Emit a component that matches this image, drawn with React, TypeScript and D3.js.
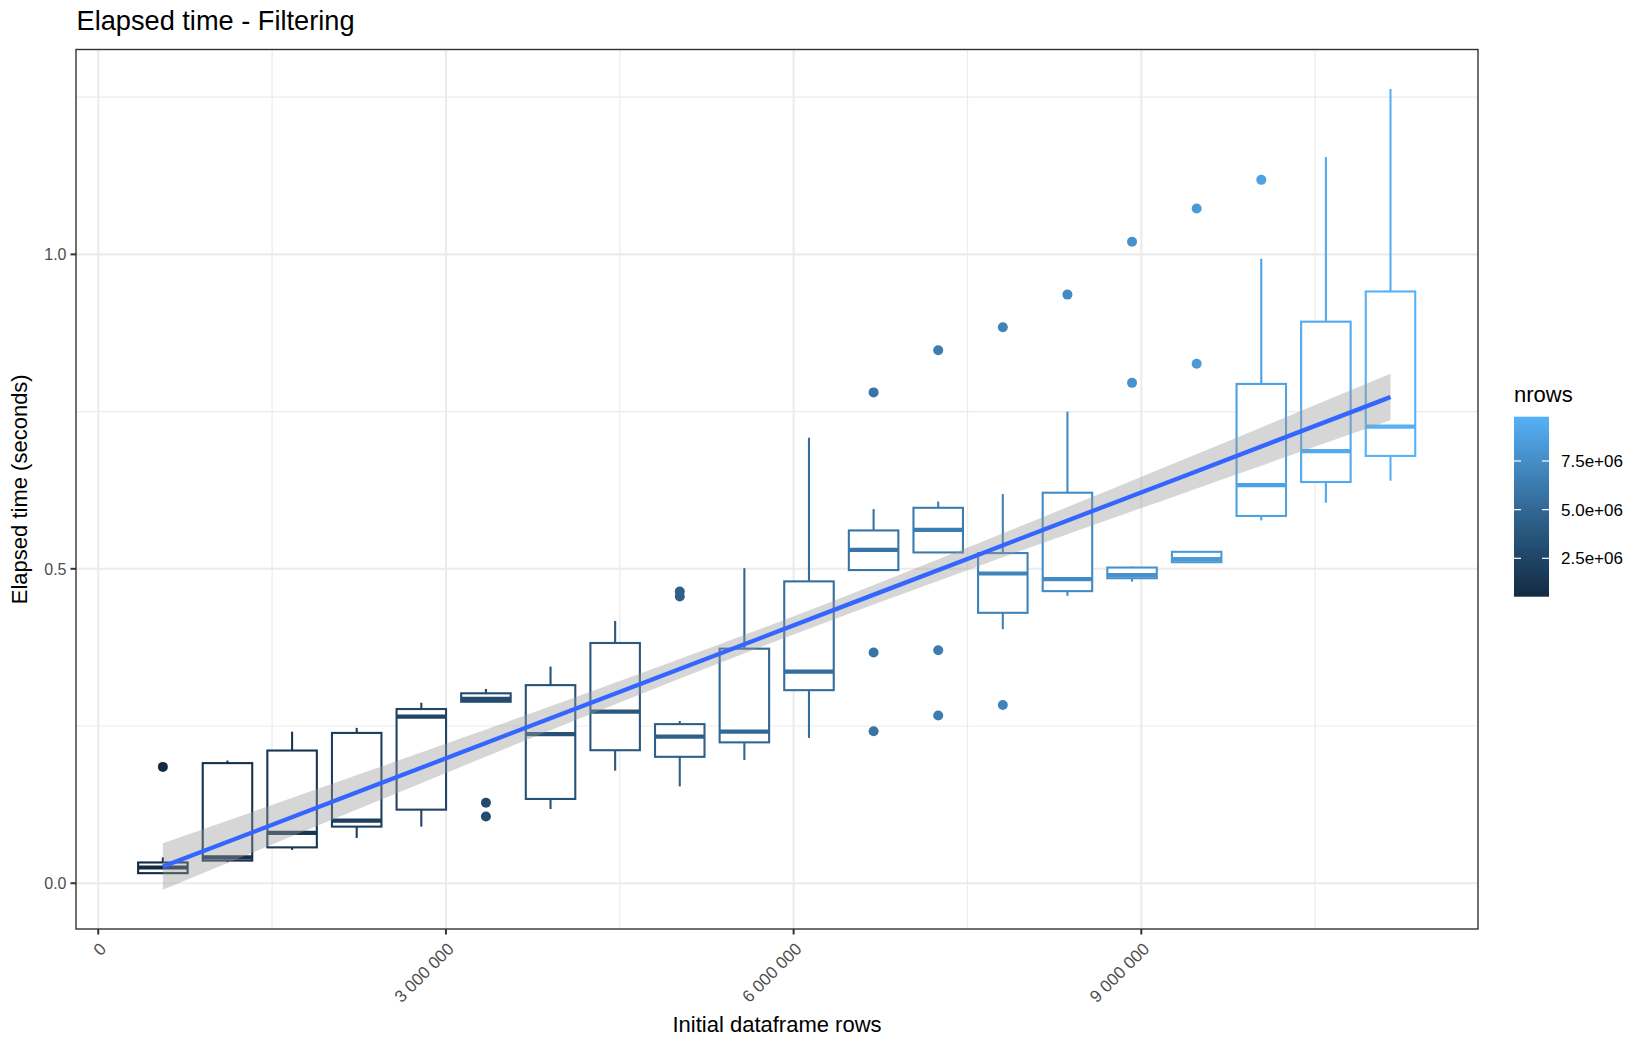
import * as d3 from 'd3';
import React from 'react';

// initial dataframe rows for each benchmark group
const initialRows = [
  557500, 1115000, 1672500, 2230000, 2787500, 3345000, 3902500, 4460000, 5017500, 5575000,
  6132500, 6690000, 7247500, 7805000, 8362500, 8920000, 9477500, 10035000, 10592500, 11150000,
];

// nrows value used for the colour of each group
const nrows = [
  527000, 1014000, 1500000, 1987000, 2474000, 2960000, 3447000, 3934000, 4421000, 4907000,
  5394000, 5881000, 6367000, 6854000, 7341000, 7828000, 8314000, 8801000, 9288000, 9774000,
];

// boxplot statistics (seconds)
const lowerWhisker = [
  0.015, 0.0334, 0.053, 0.072, 0.09, 0.288, 0.118, 0.179, 0.154, 0.196,
  0.231, 0.498, 0.525, 0.404, 0.457, 0.4796, 0.5105, 0.577, 0.605, 0.64,
];
const lowerHinge = [
  0.016, 0.036, 0.057, 0.09, 0.117, 0.2886, 0.134, 0.2115, 0.201, 0.224,
  0.307, 0.498, 0.526, 0.43, 0.4645, 0.485, 0.5105, 0.584, 0.638, 0.6795,
];
const medians = [
  0.025, 0.041, 0.08, 0.0996, 0.265, 0.293, 0.237, 0.273, 0.233, 0.241,
  0.3365, 0.53, 0.562, 0.4925, 0.4835, 0.49, 0.5155, 0.633, 0.687, 0.726,
];
const upperHinge = [
  0.033, 0.191, 0.211, 0.239, 0.277, 0.302, 0.315, 0.382, 0.253, 0.373,
  0.48, 0.561, 0.597, 0.525, 0.621, 0.502, 0.527, 0.794, 0.893, 0.941,
];
const upperWhisker = [
  0.041, 0.195, 0.241, 0.247, 0.287, 0.309, 0.3445, 0.417, 0.258, 0.501,
  0.7085, 0.595, 0.607, 0.619, 0.75, 0.5035, 0.527, 0.993, 1.155, 1.263,
];
const outliers: number[][] = [
  [0.185], [], [], [], [], [0.128, 0.106], [], [], [0.464, 0.456], [],
  [], [0.7805, 0.367, 0.2416], [0.8475, 0.3705, 0.2667], [0.884, 0.2835], [0.936],
  [1.02, 0.7957], [1.073, 0.826], [1.1185], [], [],
];

// linear model fit with 95% confidence band
const smoothRows = [557500, 2300000, 4100000, 5850000, 7600000, 9400000, 11150000];
const smoothFit = [0.0265, 0.1493, 0.2762, 0.3995, 0.5229, 0.6497, 0.7731];
const smoothLow = [-0.0105, 0.1223, 0.2579, 0.3851, 0.5046, 0.6227, 0.7361];
const smoothHigh = [0.0635, 0.1763, 0.2945, 0.4139, 0.5412, 0.6767, 0.8101];

const xTicks = [0, 3000000, 6000000, 9000000];
const xMinor = [1500000, 4500000, 7500000, 10500000];
const yTicks = [0, 0.5, 1.0];
const yMinor = [0.25, 0.75, 1.25];
const legendTicks = [2500000, 5000000, 7500000];

const FONT = "'Liberation Sans', Arial, Helvetica, sans-serif";

export default function App() {
  const width = 1650;
  const height = 1050;
  const left = 76;
  const right = 1478;
  const top = 49.5;
  const bottom = 929;

  const x = d3.scaleLinear().domain([-192000, 11905000]).range([left, right]);
  const y = d3.scaleLinear().domain([-0.0728, 1.3258]).range([bottom, top]);
  const color = d3
    .scaleLinear<string>()
    .domain([527000, 9776000])
    .range(['#132B43', '#56B1F7'])
    .interpolate(d3.interpolateLab);

  const halfBox = 213500;
  const fmtRows = (v: number) => d3.format(',')(v).replace(/,/g, ' ');
  const fmtSci = (v: number) => `${(v / 1e6).toFixed(1)}e+06`;

  const smoothData = smoothRows.map((r, i) => ({ r, fit: smoothFit[i], lo: smoothLow[i], hi: smoothHigh[i] }));
  const ribbon = d3
    .area<{ r: number; lo: number; hi: number }>()
    .x((d) => x(d.r))
    .y0((d) => y(d.lo))
    .y1((d) => y(d.hi))
    .curve(d3.curveMonotoneX);
  const fitLine = d3
    .line<{ r: number; fit: number }>()
    .x((d) => x(d.r))
    .y((d) => y(d.fit))
    .curve(d3.curveMonotoneX);

  // legend colourbar
  const barX = 1514;
  const barW = 35;
  const legendY = d3.scaleLinear().domain([527000, 9776000]).range([596.7, 416.7]);
  const gradStops = d3.range(0, 1.0001, 0.05);

  return (
    <div style={{ position: 'absolute', left: 0, top: 0 }}>
      <svg width={width} height={height} style={{ display: 'block', background: '#fff' }} fontFamily={FONT}>
        <defs>
          <linearGradient id="nrowsGrad" x1="0" y1="1" x2="0" y2="0">
            {gradStops.map((t) => (
              <stop key={t} offset={t} stopColor={color(527000 + t * (9776000 - 527000))} />
            ))}
          </linearGradient>
          <clipPath id="panelClip">
            <rect x={left} y={top} width={right - left} height={bottom - top} />
          </clipPath>
        </defs>

        <rect x={0} y={0} width={width} height={height} fill="#fff" />

        {/* grid */}
        <g stroke="#EBEBEB">
          {xMinor.map((t) => (
            <line key={`xm${t}`} x1={x(t)} x2={x(t)} y1={top} y2={bottom} strokeWidth={1.2} />
          ))}
          {yMinor.map((t) => (
            <line key={`ym${t}`} x1={left} x2={right} y1={y(t)} y2={y(t)} strokeWidth={1.2} />
          ))}
          {xTicks.map((t) => (
            <line key={`xM${t}`} x1={x(t)} x2={x(t)} y1={top} y2={bottom} strokeWidth={2.1} />
          ))}
          {yTicks.map((t) => (
            <line key={`yM${t}`} x1={left} x2={right} y1={y(t)} y2={y(t)} strokeWidth={2.1} />
          ))}
        </g>

        {/* boxplots */}
        <g clipPath="url(#panelClip)">
          {initialRows.map((r, i) => {
            const c = color(nrows[i]);
            const cx = x(r);
            const x0 = x(r - halfBox);
            const x1 = x(r + halfBox);
            return (
              <g key={r}>
                {outliers[i].map((o, j) => (
                  <circle key={j} cx={cx} cy={y(o)} r={5} fill={c} />
                ))}
                <line x1={cx} x2={cx} y1={y(upperWhisker[i])} y2={y(upperHinge[i])} stroke={c} strokeWidth={2.1} />
                <line x1={cx} x2={cx} y1={y(lowerHinge[i])} y2={y(lowerWhisker[i])} stroke={c} strokeWidth={2.1} />
                <rect
                  x={x0}
                  y={y(upperHinge[i])}
                  width={x1 - x0}
                  height={y(lowerHinge[i]) - y(upperHinge[i])}
                  fill="#fff"
                  stroke={c}
                  strokeWidth={2.1}
                />
                <line x1={x0} x2={x1} y1={y(medians[i])} y2={y(medians[i])} stroke={c} strokeWidth={4.2} />
              </g>
            );
          })}

          {/* lm smooth */}
          <path d={ribbon(smoothData) ?? ''} fill="#999999" fillOpacity={0.4} />
          <path d={fitLine(smoothData) ?? ''} fill="none" stroke="#3366FF" strokeWidth={4.3} />
        </g>

        {/* panel border */}
        <rect x={left} y={top} width={right - left} height={bottom - top} fill="none" stroke="#333333" strokeWidth={1.4} />

        {/* y axis */}
        <g>
          {yTicks.map((t) => (
            <g key={t}>
              <line x1={left - 5.5} x2={left} y1={y(t)} y2={y(t)} stroke="#333333" strokeWidth={2} />
              <text x={left - 9.5} y={y(t)} dy="0.36em" textAnchor="end" fontSize={16} fill="#4D4D4D">
                {d3.format('.1f')(t)}
              </text>
            </g>
          ))}
        </g>

        {/* x axis */}
        <g>
          {xTicks.map((t) => (
            <g key={t}>
              <line x1={x(t)} x2={x(t)} y1={bottom} y2={bottom + 5.5} stroke="#333333" strokeWidth={2} />
              <text
                transform={`translate(${x(t) + 9},${bottom + 21}) rotate(-45)`}
                textAnchor="end"
                fontSize={17}
                fill="#4D4D4D"
              >
                {fmtRows(t)}
              </text>
            </g>
          ))}
        </g>

        {/* titles */}
        <text x={76.5} y={30} fontSize={27.2} fill="#000">
          Elapsed time - Filtering
        </text>
        <text x={(left + right) / 2} y={1032} textAnchor="middle" fontSize={22} fill="#000">
          Initial dataframe rows
        </text>
        <text
          transform={`translate(27,${(top + bottom) / 2}) rotate(-90)`}
          textAnchor="middle"
          fontSize={22}
          fill="#000"
        >
          Elapsed time (seconds)
        </text>

        {/* legend */}
        <text x={barX} y={401.7} fontSize={22} fill="#000">
          nrows
        </text>
        <rect x={barX} y={416.7} width={barW} height={180} fill="url(#nrowsGrad)" />
        {legendTicks.map((t) => (
          <g key={t}>
            <line x1={barX} x2={barX + 7} y1={legendY(t)} y2={legendY(t)} stroke="#fff" strokeWidth={1.2} />
            <line x1={barX + barW - 7} x2={barX + barW} y1={legendY(t)} y2={legendY(t)} stroke="#fff" strokeWidth={1.2} />
            <text x={barX + barW + 12} y={legendY(t)} dy="0.36em" fontSize={17} fill="#000">
              {fmtSci(t)}
            </text>
          </g>
        ))}
      </svg>
    </div>
  );
}
